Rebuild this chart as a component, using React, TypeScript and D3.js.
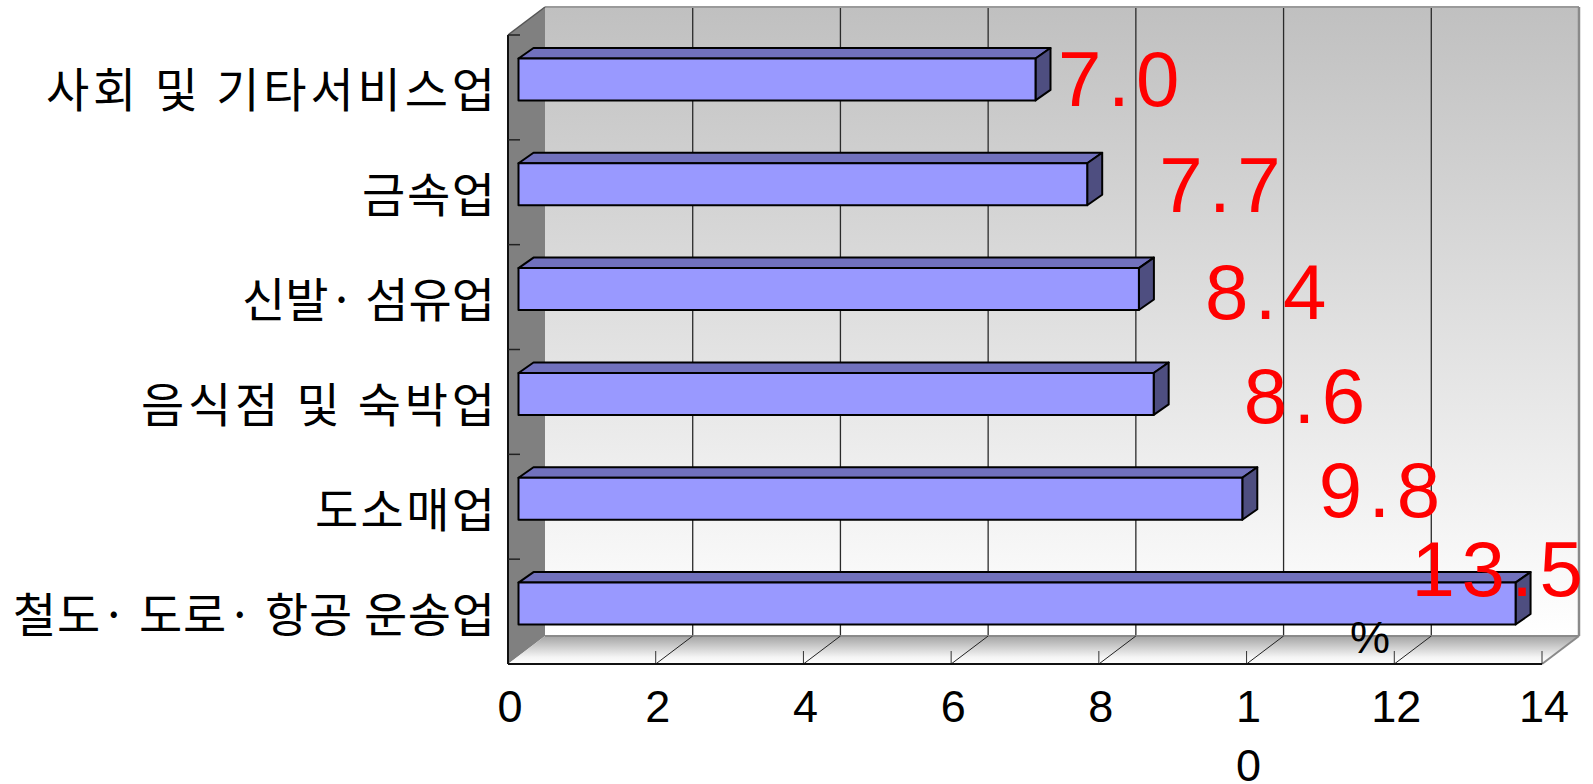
import React from "react";
import * as d3 from "d3";

const categories = [
  "사회 및 기타서비스업",
  "금속업",
  "신발· 섬유업",
  "음식점 및 숙박업",
  "도소매업",
  "철도· 도로· 항공 운송업",
];
const values = [7.0, 7.7, 8.4, 8.6, 9.8, 13.5];
const valueLabels = ["7.0", "7.7", "8.4", "8.6", "9.8", "13.5"];
const xTicks = [0, 2, 4, 6, 8, 10, 12, 14];
const xTickLabels = [["0"], ["2"], ["4"], ["6"], ["8"], ["1", "0"], ["12"], ["14"]];
const unitLabel = "%";

// layout
const W = 1593;
const H = 784;
const FRONT_LEFT = 508;
const FRONT_RIGHT = 1542;
const FRONT_TOP = 35;
const FRONT_BOTTOM = 664;
const DX = 37; // full depth offset
const DY = 28;
const ZF_DX = 10.5; // bar front-face depth offset
const ZF_DY = 8;
const BDX = 15; // bar depth
const BDY = 10.5;
// label nudges relative to bar end (front face) and band centre
const labelNudges: [number, number][] = [
  [22.5, 18.6],
  [72, 19.5],
  [66, 22.3],
  [90, 20.9],
  [76.4, 10.4],
  [-104, -15.4],
];
// rendered widths of the category labels (text fitting)
const catLabelWidths = [449, 133, 253, 354, 180, 482];

export default function App() {
  const x = d3.scaleLinear().domain([0, 14]).range([FRONT_LEFT, FRONT_RIGHT]);
  const y = d3
    .scaleBand<string>()
    .domain(categories)
    .range([FRONT_TOP, FRONT_BOTTOM])
    .paddingInner(0.6)
    .paddingOuter(0.3);
  const step = y.step();
  const bw = y.bandwidth();

  const backL = FRONT_LEFT + DX;
  const backR = FRONT_RIGHT + DX;
  const backT = FRONT_TOP - DY;
  const backB = FRONT_BOTTOM - DY;

  const pts = (p: [number, number][]) => p.map((q) => q.join(",")).join(" ");

  return (
    <svg
      width={W}
      height={H}
      style={{ position: "fixed", left: 0, top: 0, background: "#fff" }}
    >
      <defs>
        <linearGradient id="wallGrad" x1="0" y1="0" x2="0" y2="1">
          <stop offset="0" stopColor="#c0c0c0" />
          <stop offset="1" stopColor="#ffffff" />
        </linearGradient>
        <linearGradient id="floorGrad" x1="0" y1="0" x2="0" y2="1">
          <stop offset="0" stopColor="#a4a4a4" />
          <stop offset="0.75" stopColor="#f4f4f4" />
          <stop offset="1" stopColor="#ffffff" />
        </linearGradient>
      </defs>

      {/* back wall */}
      <rect x={backL} y={backT} width={backR - backL} height={backB - backT} fill="url(#wallGrad)" />
      {xTicks
        .filter((t) => t > 0 && t < 14)
        .map((t) => (
          <line
            key={"g" + t}
            x1={x(t) + DX}
            x2={x(t) + DX}
            y1={backT}
            y2={backB}
            stroke="#2a2a2a"
            strokeWidth={1.3}
          />
        ))}
      <line x1={backL} x2={backR} y1={backT} y2={backT} stroke="#9a9a9a" strokeWidth={2} />
      <line x1={backR} x2={backR} y1={backT} y2={backB} stroke="#8a8a8a" strokeWidth={2.5} />

      {/* left wall */}
      <polygon
        points={pts([
          [FRONT_LEFT, FRONT_TOP],
          [backL, backT],
          [backL, backB],
          [FRONT_LEFT, FRONT_BOTTOM],
        ])}
        fill="#808080"
      />
      <line x1={FRONT_LEFT} y1={FRONT_TOP} x2={backL} y2={backT} stroke="#555" strokeWidth={1.5} />

      {/* floor */}
      <polygon
        points={pts([
          [FRONT_LEFT, FRONT_BOTTOM],
          [backL, backB],
          [backR, backB],
          [FRONT_RIGHT, FRONT_BOTTOM],
        ])}
        fill="url(#floorGrad)"
      />
      <line x1={backL} x2={backR} y1={backB} y2={backB} stroke="#8a8a8a" strokeWidth={2} />
      <line x1={backR} y1={backB} x2={FRONT_RIGHT} y2={FRONT_BOTTOM} stroke="#8a8a8a" strokeWidth={2} />
      {xTicks
        .filter((t) => t > 0 && t < 14)
        .map((t) => (
          <line
            key={"fg" + t}
            x1={x(t)}
            y1={FRONT_BOTTOM}
            x2={x(t) + DX}
            y2={backB}
            stroke="#222"
            strokeWidth={1}
          />
        ))}
      {xTicks
        .filter((t) => t > 0)
        .map((t) => (
          <line
            key={"ft" + t}
            x1={x(t)}
            y1={FRONT_BOTTOM}
            x2={x(t)}
            y2={FRONT_BOTTOM - 13}
            stroke="#333"
            strokeWidth={1}
          />
        ))}
      <line x1={FRONT_LEFT} x2={FRONT_RIGHT} y1={FRONT_BOTTOM} y2={FRONT_BOTTOM} stroke="#111" strokeWidth={2} />
      <line x1={FRONT_LEFT} x2={FRONT_LEFT} y1={FRONT_TOP} y2={FRONT_BOTTOM} stroke="#111" strokeWidth={2} />

      {/* category ticks on the wall edge */}
      {categories.map((c, i) => (
        <line
          key={"ct" + i}
          x1={FRONT_LEFT}
          x2={FRONT_LEFT + 12}
          y1={FRONT_TOP + i * step}
          y2={FRONT_TOP + i * step}
          stroke="#222"
          strokeWidth={1.5}
        />
      ))}

      {/* bars */}
      {categories.map((c, i) => {
        const xl = x(0) + ZF_DX;
        const xr = x(values[i]) + ZF_DX;
        const yt = (y(c) as number) - ZF_DY;
        const yb = yt + bw;
        return (
          <g key={"b" + i} stroke="#000" strokeWidth={2} strokeLinejoin="round">
            <polygon
              points={pts([
                [xl, yt],
                [xl + BDX, yt - BDY],
                [xr + BDX, yt - BDY],
                [xr, yt],
              ])}
              fill="#7171bd"
            />
            <polygon
              points={pts([
                [xr, yt],
                [xr + BDX, yt - BDY],
                [xr + BDX, yb - BDY],
                [xr, yb],
              ])}
              fill="#4e4e80"
            />
            <rect x={xl} y={yt} width={xr - xl} height={bw} fill="#9999ff" />
          </g>
        );
      })}

      {/* category labels */}
      {categories.map((c, i) => (
        <text
          key={"cl" + i}
          x={495}
          y={(y(c) as number) + bw / 2 + 20}
          textAnchor="end"
          fontFamily="'Noto Sans CJK KR', sans-serif"
          fontSize={47}
          textLength={catLabelWidths[i]}
          lengthAdjust="spacing"
          fill="#000"
        >
          {c}
        </text>
      ))}

      {/* value labels */}
      {categories.map((c, i) => (
        <text
          key={"vl" + i}
          x={x(values[i]) + ZF_DX + labelNudges[i][0]}
          y={(y(c) as number) + bw / 2 + labelNudges[i][1]}
          fontFamily="'Liberation Sans', Arial, sans-serif"
          fontSize={78}
          letterSpacing={6.5}
          fill="#ff0000"
        >
          {valueLabels[i]}
        </text>
      ))}

      {/* x tick labels */}
      {xTicks.map((t, i) => (
        <text
          key={"xl" + i}
          x={x(t) + 2}
          y={721.5}
          textAnchor="middle"
          fontFamily="'Liberation Sans', Arial, sans-serif"
          fontSize={45}
          fill="#000"
        >
          {xTickLabels[i].map((s, j) => (
            <tspan key={j} x={x(t) + 2} dy={j === 0 ? 0 : 59}>
              {s}
            </tspan>
          ))}
        </text>
      ))}

      {/* unit */}
      <text
        x={1370}
        y={652.5}
        textAnchor="middle"
        fontFamily="'Liberation Sans', Arial, sans-serif"
        fontSize={45}
        fill="#000"
      >
        {unitLabel}
      </text>
    </svg>
  );
}
